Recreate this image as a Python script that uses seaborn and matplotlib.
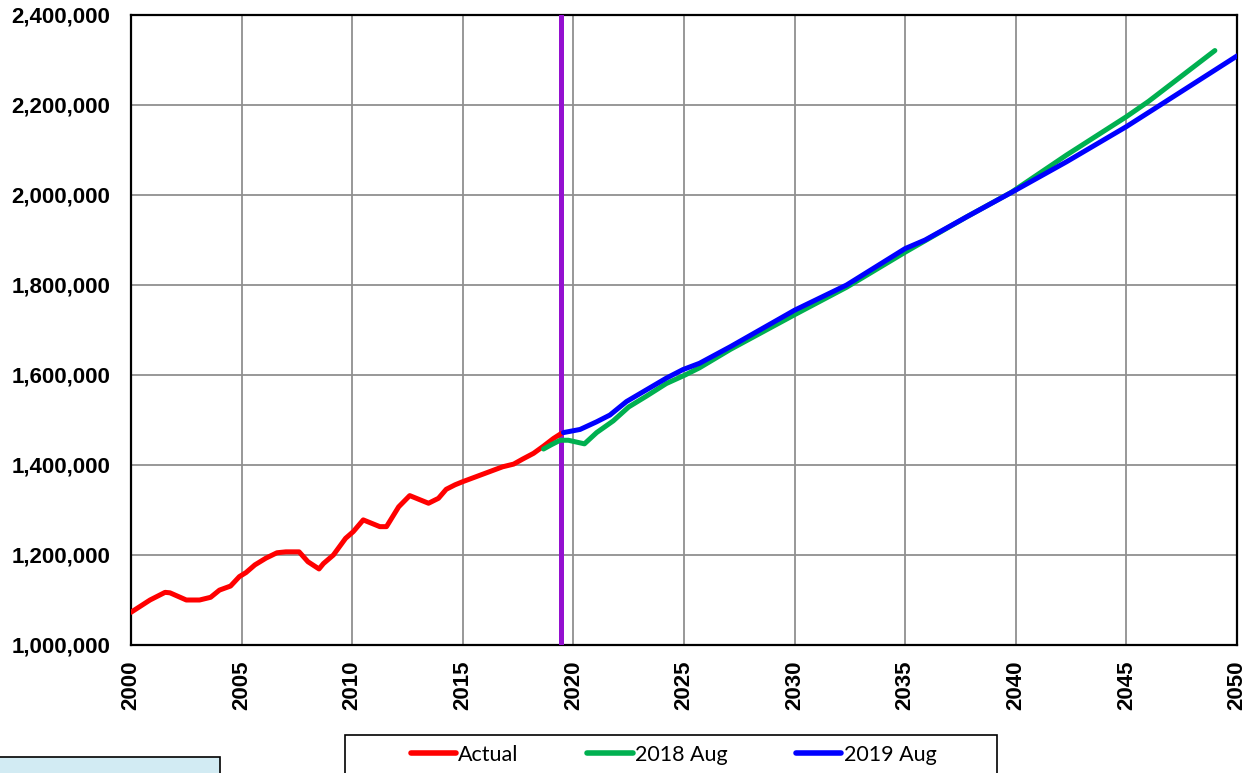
import matplotlib
matplotlib.use("Agg")
import matplotlib.pyplot as plt
import matplotlib.ticker as mticker
from matplotlib.patches import Rectangle
from matplotlib.lines import Line2D
import seaborn as sns
import pandas as pd

# ---- data ----
actual_year = [2000.0, 2000.86, 2001.54, 2001.76, 2002.5, 2003.1, 2003.6, 2004.0, 2004.5, 2004.9,
               2005.2, 2005.6, 2006.1, 2006.6, 2007.0, 2007.6, 2008.0, 2008.5, 2008.7, 2009.15,
               2009.7, 2010.05, 2010.5, 2011.25, 2011.55, 2012.1, 2012.6, 2013.45, 2013.9, 2014.25,
               2014.65, 2015.0, 2015.6, 2016.2, 2016.8, 2017.3, 2017.7, 2018.2, 2018.65, 2019.1, 2019.45]
actual_val = [1072700, 1100000, 1117000, 1116000, 1100000, 1100000, 1106000, 1122000, 1131000, 1152000,
              1161000, 1178000, 1193000, 1205000, 1207000, 1207000, 1185000, 1169000, 1181000, 1200000,
              1237000, 1252000, 1278000, 1263000, 1263000, 1307000, 1332000, 1315000, 1326000, 1346000,
              1356000, 1363000, 1374000, 1385000, 1396000, 1402000, 1413000, 1426000, 1442000, 1459000, 1470000]

aug2018_year = [2018.65, 2019.0, 2019.4, 2019.77, 2020.5, 2021.05, 2021.8, 2022.5, 2023.3, 2024.2,
                2025.05, 2025.7, 2027.1, 2030.0, 2032.35, 2035.0, 2037.8, 2039.8, 2042.3, 2045.0,
                2046.0, 2049.0]
aug2018_val = [1435500, 1445000, 1455000, 1455000, 1447000, 1472000, 1498000, 1529000, 1553000, 1581000,
               1600000, 1616000, 1657000, 1734000, 1795000, 1873000, 1952000, 2006000, 2089000, 2174000,
               2208000, 2321000]

aug2019_year = [2019.55, 2020.3, 2021.05, 2021.65, 2022.4, 2023.3, 2024.2, 2024.95, 2025.7, 2027.1,
                2030.0, 2032.35, 2035.0, 2035.9, 2037.8, 2040.0, 2042.3, 2045.0, 2046.5, 2050.0]
aug2019_val = [1472000, 1479000, 1496000, 1511000, 1541000, 1567000, 1593000, 1612000, 1626000, 1663000,
               1744000, 1800000, 1881000, 1900000, 1952000, 2011000, 2074000, 2152000, 2199000, 2309000]

series_names = ["Actual", "2018 Aug", "2019 Aug"]
marker_year = 2019.45
x_ticks = list(range(2000, 2051, 5))
y_ticks = list(range(1000000, 2400001, 200000))

# ---- styling ----
sns.set_style("white")
plt.rcParams['font.family'] = ['Liberation Sans', 'DejaVu Sans']

colors = {"Actual": "#FF0000", "2018 Aug": "#00B050", "2019 Aug": "#0000FF"}

fig = plt.figure(figsize=(12.47, 7.73), dpi=100)
ax = fig.add_axes([131/1247, 1-645/773, (1237-131)/1247, (645-15)/773])

frames = [
    pd.DataFrame({"year": actual_year, "value": actual_val, "series": series_names[0]}),
    pd.DataFrame({"year": aug2018_year, "value": aug2018_val, "series": series_names[1]}),
    pd.DataFrame({"year": aug2019_year, "value": aug2019_val, "series": series_names[2]}),
]
df = pd.concat(frames, ignore_index=True)

ax.axvline(marker_year, color="#9410D0", lw=3.6, zorder=3)

for name in series_names:
    sub = df[df["series"] == name]
    sns.lineplot(data=sub, x="year", y="value", ax=ax, color=colors[name], lw=3.6,
                 sort=False, estimator=None, legend=False, zorder=4, solid_capstyle="round")

ax.set_xlim(2000, 2050)
ax.set_ylim(1000000, 2400000)
ax.set_xticks(x_ticks)
ax.set_yticks(y_ticks)
ax.yaxis.set_major_formatter(mticker.FuncFormatter(lambda v, p: f"{int(v):,}"))
ax.set_xlabel("")
ax.set_ylabel("")
ax.grid(True, color="#909090", lw=1.3)
ax.set_axisbelow(True)
for s in ax.spines.values():
    s.set_color("black")
    s.set_linewidth(1.6)
ax.tick_params(axis="both", which="major", direction="out", length=5, width=1.5, color="black",
               labelsize=16, labelcolor="black")
ax.tick_params(axis="y", pad=10)
ax.tick_params(axis="x", pad=6)
for lbl in ax.get_xticklabels():
    lbl.set_rotation(90)
    lbl.set_fontweight("bold")
for lbl in ax.get_yticklabels():
    lbl.set_fontweight("bold")

# legend box and bottom-left box
fig.patches.append(Rectangle((345/1247, -0.05), (997-345)/1247, 0.05 + (773-735)/773,
                             transform=fig.transFigure, facecolor="white", edgecolor="black",
                             lw=1.2, zorder=1))
fig.patches.append(Rectangle((-0.01, -0.05), 0.01 + 220/1247, 0.05 + (773-757)/773,
                             transform=fig.transFigure, facecolor="#D2EBF3", edgecolor="black",
                             lw=1.2, zorder=1))

handles = [Line2D([0], [0], color=colors[n], lw=4, solid_capstyle="round") for n in series_names]
leg = fig.legend(handles, series_names, loc="center left", bbox_to_anchor=(400/1247, 1-755/773),
                 ncol=3, frameon=False, prop={"family": ["Lato", "DejaVu Sans"], "size": 15.5},
                 handlelength=2.1, handletextpad=0.1, columnspacing=3.2, borderpad=0)
for t in leg.get_texts():
    t.set_color("black")

fig.savefig("out.png", dpi=100)
